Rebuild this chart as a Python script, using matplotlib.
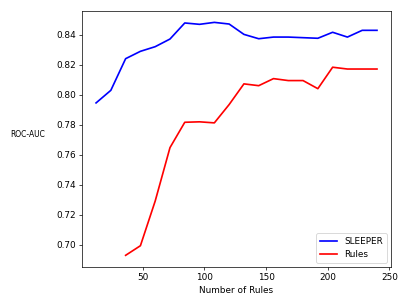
import matplotlib
matplotlib.use("Agg")
import matplotlib.pyplot as plt
from matplotlib import font_manager

x_sleeper = [12, 24, 36, 48, 60, 72, 84, 96, 108, 120, 132, 144, 156, 168, 180, 192, 204, 216, 228, 240]
y_sleeper = [0.7945, 0.8029, 0.8240, 0.8289, 0.8320, 0.8371, 0.8478, 0.8469, 0.8482, 0.8471,
             0.8402, 0.8373, 0.8384, 0.8384, 0.8380, 0.8376, 0.8416, 0.8384, 0.8429, 0.8429]
x_rules = [36, 48, 60, 72, 84, 96, 108, 120, 132, 144, 156, 168, 180, 192, 204, 216, 228, 240]
y_rules = [0.6929, 0.6993, 0.7291, 0.7647, 0.7816, 0.7819, 0.7812, 0.7934, 0.8072, 0.8060,
           0.8107, 0.8094, 0.8094, 0.8040, 0.8183, 0.8171, 0.8171, 0.8171]

has_cond = any(f.name == 'DejaVu Sans' and str(f.stretch) in ('condensed', '400', 'semi-condensed')
               for f in font_manager.fontManager.ttflist)
ykw = dict(fontstretch='condensed', fontsize=9.5) if has_cond else dict(fontsize=9)

fig = plt.figure(figsize=(6.4, 4.8), dpi=63.6)
ax = fig.add_axes([82/407, 1-267/305, (391-82)/407, (267-11)/305])
ax.plot(x_sleeper, y_sleeper, color="blue", lw=1.9, label="SLEEPER")
ax.plot(x_rules, y_rules, color="red", lw=1.9, label="Rules")
ax.set_xlabel("Number of Rules")
ax.set_ylabel("ROC-AUC", rotation=0, labelpad=32, **ykw)
ax.legend(loc="lower right")
fig.savefig("out.png", dpi=63.6)
